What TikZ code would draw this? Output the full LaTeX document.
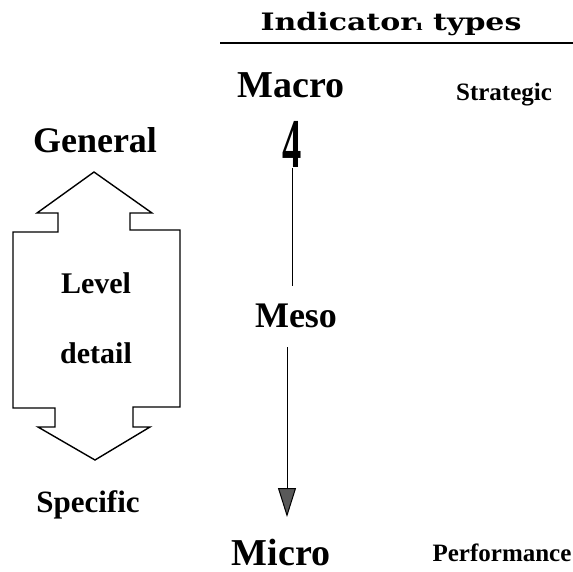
\documentclass[tikz,border=0pt]{standalone}
\usepackage{fontspec}
\setmainfont{Liberation Serif}
\newfontfamily\titlefont{DejaVu Serif}
\usetikzlibrary{arrows.meta}
\tikzset{
  lbl/.style={anchor=base, inner sep=0pt, font=\bfseries},
  outline/.style={draw=black, line width=1.4pt, line join=miter},
  conn/.style={draw=black, line width=1pt}
}
\newcommand{\fs}[1]{\fontsize{#1}{#1}\selectfont}
\begin{document}
\begin{tikzpicture}[x=1pt,y=-1pt]
\useasboundingbox (0,0) rectangle (573,571);
% title
\node[lbl, font=\titlefont\bfseries\fs{24}, xscale=1.25] (title) at (391,30) {Indicator{\fs{14}ı} types};
\coordinate (ruleL) at (220,43);
\coordinate (ruleR) at (573,43);
\draw[line width=2.6pt] (ruleL) -- (ruleR);
% column labels
\node[lbl, font=\bfseries\fs{38}] (macro) at (291,97) {Macro};
\node[lbl, font=\bfseries\fs{25}] (strategic) at (504,100) {Strategic};
\node[lbl, font=\bfseries\fs{36}] (meso) at (296,327) {Meso};
\node[lbl, font=\bfseries\fs{38}] (micro) at (281,565) {Micro};
\node[lbl, font=\bfseries\fs{25}] (performance) at (502,561) {Performance};
\node[lbl, font=\bfseries\fs{70}, xscale=0.55] (four) at (292,167) {4};
% connectors
\coordinate (l1a) at (292,168);
\coordinate (l1b) at (292,286);
\draw[conn] (l1a) -- (l1b);
\coordinate (l2a) at (287,347);
\coordinate (l2b) at (287,517);
\draw[conn, -{Triangle[width=18pt,length=29pt,fill=black!65]}] (l2a) -- (l2b);
% left side
\node[lbl, font=\bfseries\fs{36}] (general) at (95,152) {General};
\node[lbl, font=\bfseries\fs{31}] (specific) at (88,512) {Specific};
\draw[outline] (94,172) -- (152,213) -- (130,213) -- (130,230) -- (180,230)
  -- (180,407) -- (133,407) -- (133,427) -- (150,427) -- (95,460)
  -- (38,427) -- (55,427) -- (55,408) -- (13,408) -- (13,232)
  -- (58,232) -- (58,213) -- (37,213) -- cycle;
\node[lbl, font=\bfseries\fs{30}] (level) at (96,293) {Level};
\node[lbl, font=\bfseries\fs{30}] (detail) at (96,363) {detail};
\end{tikzpicture}
\end{document}
